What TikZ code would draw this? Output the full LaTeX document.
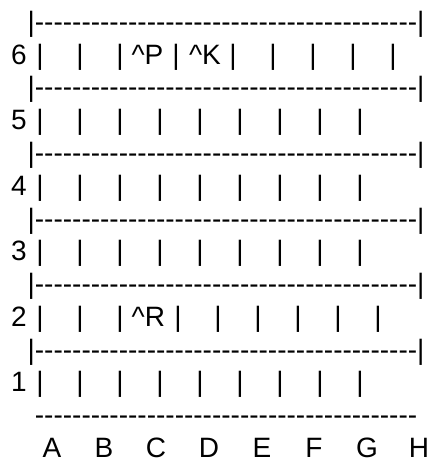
\documentclass[tikz,border=0pt]{standalone}
\usepackage{fontspec}
\newfontfamily\boardfont{Liberation Sans}
\newcommand{\dashrun}{\foreach \k in {1,...,41}{-}}

\begin{document}
\begin{tikzpicture}[x=1pt,y=-1pt]
  \tikzset{glyph/.style={font=\boardfont\fontsize{28}{28}\selectfont, inner sep=0pt, anchor=base}}
  \useasboundingbox (0,0) rectangle (433,462);
  \foreach \n/\y in {0/31.5,1/97,2/162.5,3/228,4/293.5,5/359}
    \node[glyph, anchor=base west] (sep\n) at (27.4,\y) {|\dashrun|};
  \node[glyph, anchor=base west] (rule) at (34.7,424.5) {\dashrun};
  \foreach \r/\y in {6/64.3,5/129.8,4/195.3,3/260.8,2/326.3,1/391.8}
    \node[glyph, anchor=base east] (row\r) at (27,\y) {\r};
  \foreach \r/\y in {5/129.8,4/195.3,3/260.8,1/391.8}
    \foreach \i in {0,...,8}
      \node[glyph] (p\r-\i) at (40+40*\i,\y) {|};
  \foreach \x [count=\i] in {40,80,120,176,233,273,313,353,393}
    \node[glyph] (p6-\i) at (\x,64.3) {|};
  \node[glyph] (pawn) at (147.5,64.3) {\textasciicircum P};
  \node[glyph] (king) at (205,64.3) {\textasciicircum K};
  \foreach \x [count=\i] in {40,80,120,178,218,258,298,338,378}
    \node[glyph] (p2-\i) at (\x,326.3) {|};
  \node[glyph] (rook) at (148.3,326.3) {\textasciicircum R};
  \foreach \c/\x in {A/52,B/104,C/156,D/209,E/262,F/314,G/367,H/419}
    \node[glyph] (col\c) at (\x,457.3) {\c};
\end{tikzpicture}
\end{document}
